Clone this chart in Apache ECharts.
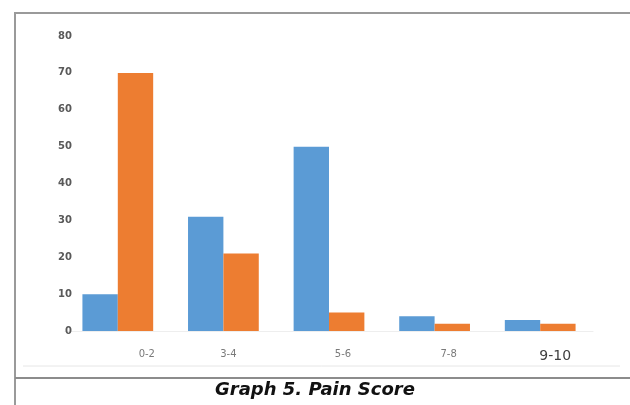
<!DOCTYPE html>
<html>
<head>
<meta charset="utf-8">
<script src="https://cdn.jsdelivr.net/npm/echarts@6/dist/echarts.min.js"></script>
<style>
html,body{margin:0;padding:0;background:#fff;}
#c{width:630px;height:405px;}
</style>
</head>
<body>
<div id="c"></div>
<script>
const categories = ['0-2', '3-4', '5-6', '7-8', '9-10'];
const seriesBlue = [10, 31, 50, 4, 3];
const seriesOrange = [70, 21, 5, 2, 2];
const yTicks = [0, 10, 20, 30, 40, 50, 60, 70, 80];
const titleText = 'Graph 5. Pain Score';

const labelShift = [58, 10, 28, 28, 30];
const chart = echarts.init(document.getElementById('c'));
chart.setOption({
  animation: false,
  backgroundColor: '#fff',
  grid: { left: 65, right: 37, top: 36, bottom: 74 },
  xAxis: {
    type: 'category',
    data: categories.map((c, i) => ({
      value: c,
      textStyle: i === 4
        ? { fontSize: 14, color: '#404040', padding: [0, 0, 0, labelShift[i]] }
        : { padding: [0, 0, 0, labelShift[i]] }
    })),
    axisLine: { show: true, lineStyle: { color: '#eeeeee', width: 1 } },
    axisTick: { show: false },
    axisLabel: { margin: 18, color: '#7a7a7a', fontSize: 10, fontFamily: 'DejaVu Sans' }
  },
  yAxis: {
    type: 'value',
    min: yTicks[0],
    max: yTicks[yTicks.length - 1],
    interval: 10,
    axisLine: { show: false },
    axisTick: { show: false },
    splitLine: { show: false },
    axisLabel: { margin: -7, color: '#595959', fontSize: 10, fontWeight: 'bold', fontFamily: 'DejaVu Sans', verticalAlign: 'middle', padding: [4, 0, 0, 0] }
  },
  series: [
    { type: 'bar', data: seriesBlue, itemStyle: { color: '#5B9BD5' }, barGap: '0%', barCategoryGap: '33%' },
    { type: 'bar', data: seriesOrange, itemStyle: { color: '#ED7D31' }, barGap: '0%', barCategoryGap: '33%' }
  ],
  graphic: [
    { type: 'polyline', shape: { points: [[15, 405], [15, 13], [630, 13]] }, style: { stroke: '#9a9a9a', lineWidth: 2, fill: null } },
    { type: 'line', shape: { x1: 23, y1: 366, x2: 620, y2: 366 }, style: { stroke: '#e6e6e6', lineWidth: 1 } },
    { type: 'line', shape: { x1: 15, y1: 378, x2: 630, y2: 378 }, style: { stroke: '#8c8c8c', lineWidth: 2 } },
    { type: 'text', left: 'center', top: 381, style: { text: titleText, font: 'italic bold 18px "DejaVu Sans"', fill: '#111' } }
  ]
});
</script>
</body>
</html>
